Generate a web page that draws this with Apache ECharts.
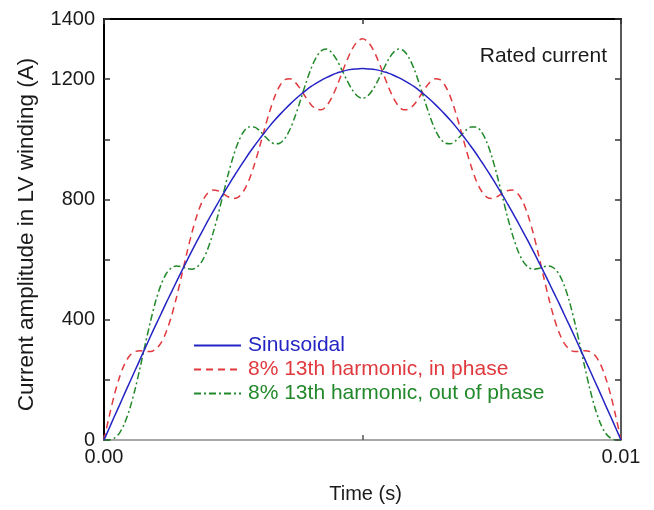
<!DOCTYPE html>
<html>
<head>
<meta charset="utf-8">
<script src="https://cdn.jsdelivr.net/npm/echarts@6/dist/echarts.min.js"></script>
<style>
  html, body { margin: 0; padding: 0; background: #fff; }
  #chart { width: 654px; height: 510px; }
</style>
</head>
<body>
<div id="chart"></div>
<script>
// time (s), 0.0001 s steps over one half cycle
const timeS = [
  0, 0.0001, 0.0002, 0.0003, 0.0004, 0.0005, 0.0006, 0.0007, 0.0008, 0.0009,
  0.0010, 0.0011, 0.0012, 0.0013, 0.0014, 0.0015, 0.0016, 0.0017, 0.0018, 0.0019,
  0.0020, 0.0021, 0.0022, 0.0023, 0.0024, 0.0025, 0.0026, 0.0027, 0.0028, 0.0029,
  0.0030, 0.0031, 0.0032, 0.0033, 0.0034, 0.0035, 0.0036, 0.0037, 0.0038, 0.0039,
  0.0040, 0.0041, 0.0042, 0.0043, 0.0044, 0.0045, 0.0046, 0.0047, 0.0048, 0.0049,
  0.0050, 0.0051, 0.0052, 0.0053, 0.0054, 0.0055, 0.0056, 0.0057, 0.0058, 0.0059,
  0.0060, 0.0061, 0.0062, 0.0063, 0.0064, 0.0065, 0.0066, 0.0067, 0.0068, 0.0069,
  0.0070, 0.0071, 0.0072, 0.0073, 0.0074, 0.0075, 0.0076, 0.0077, 0.0078, 0.0079,
  0.0080, 0.0081, 0.0082, 0.0083, 0.0084, 0.0085, 0.0086, 0.0087, 0.0088, 0.0089,
  0.0090, 0.0091, 0.0092, 0.0093, 0.0094, 0.0095, 0.0096, 0.0097, 0.0098, 0.0099,
  0.0100
];

const sinusoidal = [
  0, 39, 78, 116, 155, 193, 231, 269, 307, 345,
  382, 418, 455, 490, 526, 561, 595, 629, 662, 694,
  726, 757, 787, 817, 845, 873, 900, 926, 952, 976,
  999, 1021, 1043, 1063, 1082, 1100, 1117, 1133, 1148, 1162,
  1175, 1186, 1196, 1205, 1213, 1220, 1225, 1230, 1233, 1234,
  1235,
  1234, 1233, 1230, 1225, 1220, 1213, 1205, 1196, 1186, 1175,
  1162, 1148, 1133, 1117, 1100, 1082, 1063, 1043, 1021, 999,
  976, 952, 926, 900, 873, 845, 817, 787, 757, 726,
  694, 662, 629, 595, 561, 526, 490, 455, 418, 382,
  345, 307, 269, 231, 193, 155, 116, 78, 39, 0
];

const inPhase = [
  0, 78, 150, 209, 253, 281, 294, 297, 295, 294,
  302, 322, 358, 409, 473, 545, 620, 689, 748, 793,
  820, 831, 829, 820, 809, 803, 808, 828, 862, 911,
  969, 1031, 1090, 1141, 1178, 1198, 1201, 1189, 1167, 1140,
  1116, 1101, 1098, 1110, 1137, 1175, 1219, 1263, 1300, 1325,
  1334,
  1325, 1300, 1263, 1219, 1175, 1137, 1110, 1098, 1101, 1116,
  1140, 1167, 1189, 1201, 1198, 1178, 1141, 1090, 1031, 969,
  911, 862, 828, 808, 803, 809, 820, 829, 831, 820,
  793, 748, 689, 620, 545, 473, 409, 358, 322, 302,
  294, 295, 297, 294, 281, 253, 209, 150, 78, 0
];

const outOfPhase = [
  0, 0, 6, 23, 56, 105, 168, 242, 320, 395,
  462, 515, 552, 572, 579, 576, 570, 568, 575, 596,
  632, 683, 745, 814, 882, 943, 992, 1025, 1041, 1041,
  1030, 1012, 995, 985, 987, 1003, 1034, 1078, 1130, 1184,
  1233, 1271, 1294, 1300, 1289, 1265, 1231, 1196, 1165, 1144,
  1136,
  1144, 1165, 1196, 1231, 1265, 1289, 1300, 1294, 1271, 1233,
  1184, 1130, 1078, 1034, 1003, 987, 985, 995, 1012, 1030,
  1041, 1041, 1025, 992, 943, 882, 814, 745, 683, 632,
  596, 575, 568, 570, 576, 579, 572, 552, 515, 462,
  395, 320, 242, 168, 105, 56, 23, 6, 0, 0
];

const seriesNames = [
  "Sinusoidal",
  "8% 13th harmonic, in phase",
  "8% 13th harmonic, out of phase"
];

const FONT = "Liberation Sans, Arial, sans-serif";
const COLORS = ["#2424c4", "#e0393e", "#22892a"];

const chart = echarts.init(document.getElementById("chart"));

function pairs(vals) {
  return timeS.map(function (t, i) { return [t, vals[i]]; });
}

const lineStyles = [
  { width: 1.5, type: "solid" },
  { width: 1.5, type: [7, 5] },
  { width: 1.5, type: [7, 3, 2, 3] }
];
const seriesData = [sinusoidal, inPhase, outOfPhase];

chart.setOption({
  animation: false,
  textStyle: { fontFamily: FONT },
  grid: { left: 104, right: 33, top: 19, bottom: 70 },
  title: {
    text: "Rated current",
    right: 42,
    top: 41,
    textStyle: { fontFamily: FONT, fontSize: 21, fontWeight: "normal", color: "#1a1a1a" }
  },
  legend: {
    orient: "vertical",
    left: 193,
    top: 335,
    padding: 0,
    itemWidth: 47,
    itemHeight: 14,
    itemGap: 3,
    itemStyle: { opacity: 0 },
    data: seriesNames.map(function (n, i) {
      return { name: n, textStyle: { color: COLORS[i] } };
    }),
    textStyle: { fontFamily: FONT, fontSize: 21, lineHeight: 21, padding: [0, 0, 0, 2] }
  },
  xAxis: [{
    type: "value",
    min: 0,
    max: 0.01,
    interval: 0.005,
    name: "Time (s)",
    nameLocation: "middle",
    nameGap: 44,
    nameTextStyle: { fontFamily: FONT, fontSize: 20, color: "#1a1a1a", padding: [0, 0, 0, 6] },
    axisLine: { onZero: false, lineStyle: { color: "#8a8a8a", width: 1.5 } },
    axisTick: { inside: true, length: 5, lineStyle: { color: "#555", width: 1.5 } },
    axisLabel: {
      fontFamily: FONT, fontSize: 20, color: "#1a1a1a", margin: 7,
      formatter: function (v) {
        if (v === 0) return "0.00";
        if (Math.abs(v - 0.01) < 1e-9) return "0.01";
        return "";
      }
    },
    splitLine: { show: false }
  }, {
    type: "value",
    position: "top",
    min: 0,
    max: 0.01,
    interval: 0.005,
    axisLine: { onZero: false, lineStyle: { color: "#000", width: 2 } },
    axisTick: { inside: true, length: 5, lineStyle: { color: "#333", width: 1.5 } },
    axisLabel: { show: false },
    splitLine: { show: false }
  }],
  yAxis: [{
    type: "value",
    min: 0,
    max: 1400,
    interval: 200,
    name: "Current amplitude in LV winding (A)",
    nameLocation: "middle",
    nameGap: 66,
    nameTextStyle: { fontFamily: FONT, fontSize: 22.5, color: "#1a1a1a", padding: [0, 10, 0, 0] },
    axisLine: { onZero: false, lineStyle: { color: "#000", width: 2 } },
    axisTick: { inside: true, length: 6, lineStyle: { color: "#333", width: 1.5 } },
    axisLabel: {
      fontFamily: FONT, fontSize: 20, color: "#1a1a1a", margin: 9,
      formatter: function (v) {
        return (v % 400 === 0 || v === 1400) ? String(v) : "";
      }
    },
    splitLine: { show: false }
  }, {
    type: "value",
    position: "right",
    min: 0,
    max: 1400,
    interval: 200,
    axisLine: { onZero: false, lineStyle: { color: "#222", width: 1.5 } },
    axisTick: { inside: true, length: 6, lineStyle: { color: "#333", width: 1.5 } },
    axisLabel: { show: false },
    splitLine: { show: false }
  }],
  series: seriesNames.map(function (n, i) {
    return {
      name: n,
      type: "line",
      data: pairs(seriesData[i]),
      smooth: 0.3,
      symbol: "none",
      clip: true,
      z: 3 - i,
      lineStyle: Object.assign({ color: COLORS[i] }, lineStyles[i]),
      itemStyle: { color: COLORS[i] }
    };
  })
});
</script>
</body>
</html>
